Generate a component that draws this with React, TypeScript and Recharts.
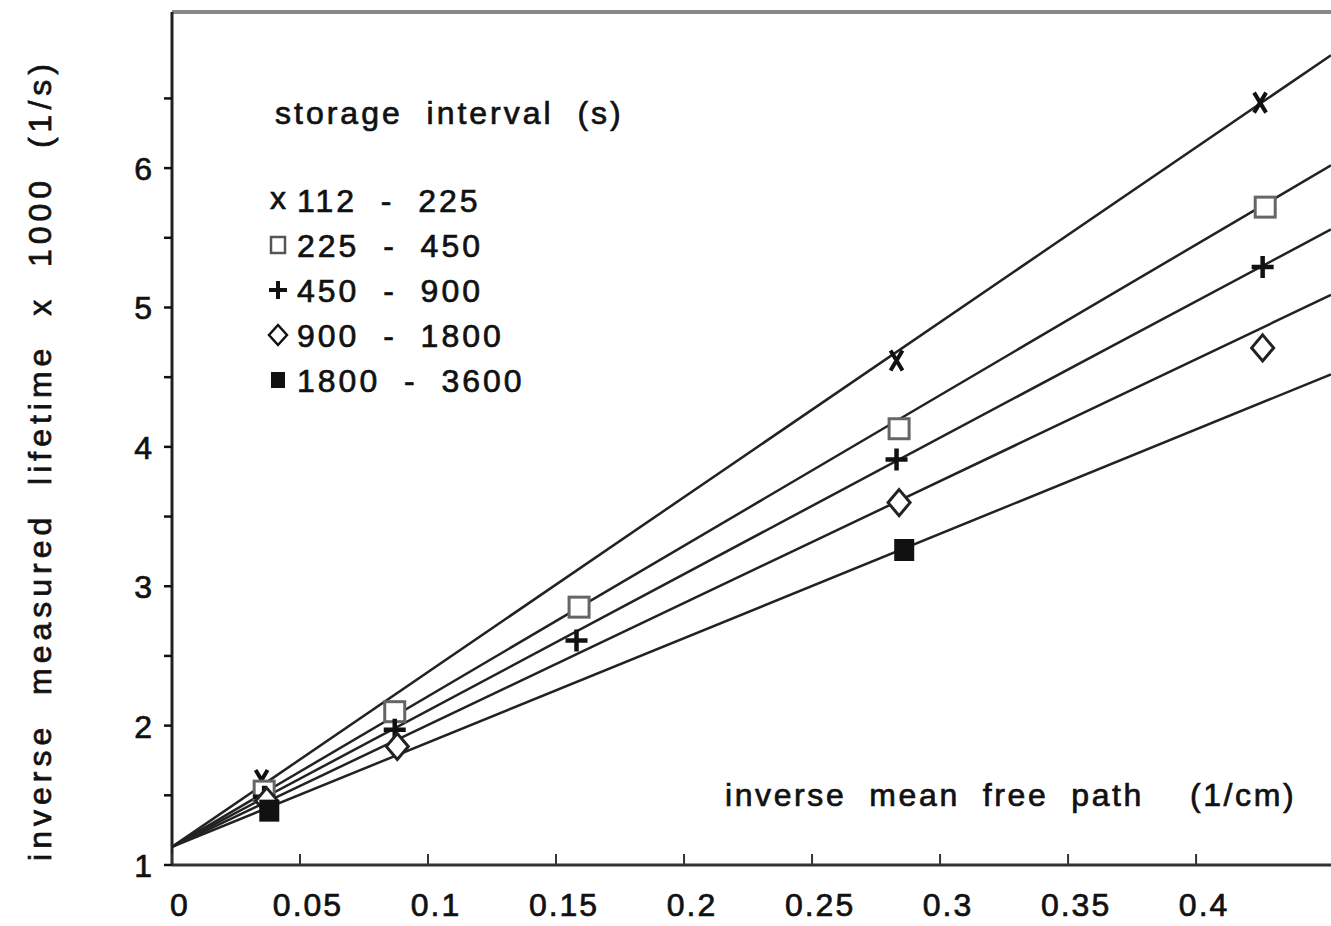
import React from 'react';
import { ComposedChart, Line, Scatter, XAxis, YAxis, ReferenceLine, Legend } from 'recharts';

// x axis: inverse mean free path (1/cm)
const xTicks = [0, 0.05, 0.1, 0.15, 0.2, 0.25, 0.3, 0.35, 0.4];
const xTickLabels = ['0', '0.05', '0.1', '0.15', '0.2', '0.25', '0.3', '0.35', '0.4'];
const yTicks = [1, 1.5, 2, 2.5, 3, 3.5, 4, 4.5, 5, 5.5, 6, 6.5];

// measured points, one list per storage interval
const pts112 = [
  { x: 0.035, y: 1.61 },
  { x: 0.283, y: 4.62 },
  { x: 0.425, y: 6.47 },
];
const pts225 = [
  { x: 0.036, y: 1.53 },
  { x: 0.087, y: 2.1 },
  { x: 0.159, y: 2.85 },
  { x: 0.284, y: 4.13 },
  { x: 0.427, y: 5.72 },
];
const pts450 = [
  { x: 0.036, y: 1.49 },
  { x: 0.087, y: 1.97 },
  { x: 0.158, y: 2.61 },
  { x: 0.283, y: 3.91 },
  { x: 0.426, y: 5.29 },
];
const pts900 = [
  { x: 0.037, y: 1.46 },
  { x: 0.088, y: 1.85 },
  { x: 0.284, y: 3.6 },
  { x: 0.426, y: 4.71 },
];
const pts1800 = [
  { x: 0.038, y: 1.39 },
  { x: 0.286, y: 3.26 },
];

// straight fits, value at left and right edge of the plot
const fitX = [0, 0.4527];
const fit112 = [1.13, 6.81];
const fit225 = [1.13, 6.02];
const fit450 = [1.13, 5.56];
const fit900 = [1.13, 5.09];
const fit1800 = [1.13, 4.52];

const legendRows = ['112  -  225', '225  -  450', '450  -  900', '900  -  1800', '1800  -  3600'];

const FONT = '"Liberation Sans", Arial, sans-serif';
const INK = '#111';
// scanned text looks a bit heavier than plain regular weight
const txt = { fontFamily: FONT, fontSize: 32, fill: INK, stroke: INK, strokeWidth: 0.7 };

const toLine = (ys: number[]) => ys.map((y, i) => ({ x: fitX[i], y }));

const XMark = (p: any) => (
  <path
    d={`M${p.cx - 6},${p.cy - 10}L${p.cx + 6},${p.cy + 10}M${p.cx + 6},${p.cy - 10}L${p.cx - 6},${p.cy + 10}`}
    stroke={INK}
    strokeWidth={4}
  />
);
const OpenSquare = (p: any) => (
  <rect x={p.cx - 10} y={p.cy - 10} width={20} height={20} fill="#fff" stroke="#666" strokeWidth={3} />
);
const PlusMark = (p: any) => (
  <path d={`M${p.cx - 11},${p.cy}H${p.cx + 11}M${p.cx},${p.cy - 11}V${p.cy + 11}`} stroke={INK} strokeWidth={4.5} />
);
const DiamondMark = (p: any) => (
  <path
    d={`M${p.cx},${p.cy - 13}L${p.cx + 11},${p.cy}L${p.cx},${p.cy + 13}L${p.cx - 11},${p.cy}Z`}
    fill="#fff"
    stroke="#222"
    strokeWidth={3}
  />
);
const FilledSquare = (p: any) => <rect x={p.cx - 10} y={p.cy - 11} width={20} height={22} fill={INK} />;

const XTick = (p: any) => {
  const i = xTicks.indexOf(p.payload.value);
  return (
    <g>
      <line x1={p.x} x2={p.x} y1={p.y} y2={p.y - 11} stroke="#333" strokeWidth={2} />
      <text x={p.x + 8} y={p.y + 51} textAnchor="middle" letterSpacing={2} {...txt}>
        {xTickLabels[i]}
      </text>
    </g>
  );
};

const YTick = (p: any) => {
  const v = p.payload.value;
  return (
    <g>
      <line x1={p.x - 8} x2={p.x} y1={p.y} y2={p.y} stroke={INK} strokeWidth={2.5} />
      {Number.isInteger(v) && (
        <text x={p.x - 20} y={p.y + 12} textAnchor="end" {...txt}>
          {v}
        </text>
      )}
    </g>
  );
};

const YTitle = () => (
  <text
    x={40}
    y={460}
    transform="rotate(-90, 40, 460)"
    textAnchor="middle"
    dominantBaseline="central"
    letterSpacing={5}
    style={{ whiteSpace: 'pre' }}
    {...txt}
  >
    {'inverse  measured  lifetime  x  1000  (1/s)'}
  </text>
);

const XTitle = (p: any) => (
  <text x={p.viewBox.x + 553} y={p.viewBox.y - 59} letterSpacing={2.6} style={{ whiteSpace: 'pre' }} {...txt}>
    {'inverse  mean  free  path    (1/cm)'}
  </text>
);

const symbols = [
  (cx: number, cy: number) => (
    <text x={cx} y={cy + 9} textAnchor="middle" {...txt}>x</text>
  ),
  (cx: number, cy: number) => <rect x={cx - 7} y={cy - 8} width={14} height={16} fill="#fff" stroke="#555" strokeWidth={2.5} />,
  (cx: number, cy: number) => <path d={`M${cx - 9},${cy}H${cx + 9}M${cx},${cy - 9}V${cy + 9}`} stroke={INK} strokeWidth={4} />,
  (cx: number, cy: number) => (
    <path d={`M${cx},${cy - 10}L${cx + 9},${cy}L${cx},${cy + 10}L${cx - 9},${cy}Z`} fill="#fff" stroke={INK} strokeWidth={2.5} />
  ),
  (cx: number, cy: number) => <rect x={cx - 7} y={cy - 8} width={14} height={16} fill={INK} />,
];

const LegendBox = () => (
  <svg width={420} height={330}>
    <text x={20} y={44} letterSpacing={3} style={{ whiteSpace: 'pre' }} {...txt}>
      {'storage  interval  (s)'}
    </text>
    {legendRows.map((label, i) => {
      const cy = 120 + i * 45;
      return (
        <g key={label}>
          {symbols[i](23, cy)}
          <text x={42} y={cy + 12} letterSpacing={3} style={{ whiteSpace: 'pre' }} {...txt}>
            {label}
          </text>
        </g>
      );
    })}
  </svg>
);

export default function App() {
  return (
    <div style={{ position: 'absolute', left: 0, top: 0, background: '#fff' }}>
      <ComposedChart width={1331} height={926} margin={{ top: 12, right: 0, bottom: 0, left: 72 }}>
        <XAxis
          dataKey="x"
          type="number"
          domain={[0, 0.4527]}
          ticks={xTicks}
          allowDataOverflow
          height={61}
          tickSize={0}
          tickMargin={0}
          tick={<XTick />}
          axisLine={{ stroke: '#333', strokeWidth: 3 }}
          label={{ content: <XTitle /> }}
        />
        <YAxis
          dataKey="y"
          type="number"
          domain={[1, 7.12]}
          ticks={yTicks}
          allowDataOverflow
          width={100}
          tickSize={0}
          tickMargin={0}
          tick={<YTick />}
          axisLine={{ stroke: '#222', strokeWidth: 3 }}
          label={{ content: <YTitle /> }}
        />
        <ReferenceLine y={7.12} stroke="#888" strokeWidth={4} />
        <Legend
          layout="horizontal"
          verticalAlign="middle"
          align="center"
          content={<LegendBox />}
          wrapperStyle={{ position: 'absolute', left: 255, top: 80, width: 420, height: 330 }}
        />
        <Line data={toLine(fit112)} dataKey="y" stroke="#222" strokeWidth={2.5} dot={false} isAnimationActive={false} />
        <Line data={toLine(fit225)} dataKey="y" stroke="#222" strokeWidth={2.5} dot={false} isAnimationActive={false} />
        <Line data={toLine(fit450)} dataKey="y" stroke="#222" strokeWidth={2.5} dot={false} isAnimationActive={false} />
        <Line data={toLine(fit900)} dataKey="y" stroke="#222" strokeWidth={2.5} dot={false} isAnimationActive={false} />
        <Line data={toLine(fit1800)} dataKey="y" stroke="#222" strokeWidth={2.5} dot={false} isAnimationActive={false} />
        <Scatter data={pts112} dataKey="y" shape={<XMark />} isAnimationActive={false} />
        <Scatter data={pts225} dataKey="y" shape={<OpenSquare />} isAnimationActive={false} />
        <Scatter data={pts450} dataKey="y" shape={<PlusMark />} isAnimationActive={false} />
        <Scatter data={pts900} dataKey="y" shape={<DiamondMark />} isAnimationActive={false} />
        <Scatter data={pts1800} dataKey="y" shape={<FilledSquare />} isAnimationActive={false} />
      </ComposedChart>
    </div>
  );
}
